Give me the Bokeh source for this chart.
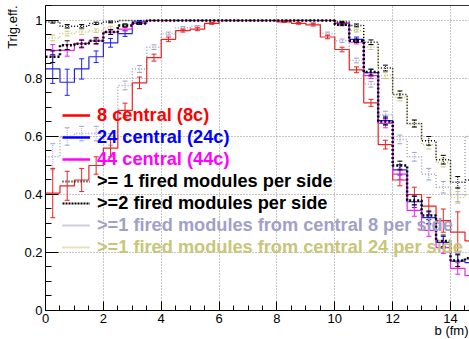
from bokeh.plotting import figure
from bokeh.models import (Range1d, Legend, LegendItem, Title, LinearAxis, FixedTicker,
                          SingleIntervalTicker, ColumnDataSource)
from bokeh.embed import file_html
from bokeh.resources import INLINE

# ---------------- data ----------------
bin_edges = [0.0, 0.5, 1.0, 1.5, 2.0, 2.5, 3.0, 3.5, 4.0, 4.5, 5.0, 5.5, 6.0, 6.5, 7.0,
             7.5, 8.0, 8.5, 9.0, 9.5, 10.0, 10.5, 11.0, 11.5, 12.0, 12.5, 13.0, 13.5,
             14.0, 14.5, 15.0]

eff_8c = [0.405, 0.43, 0.45, 0.50, 0.56, 0.69, 0.785, 0.872, 0.935, 0.965, 0.97, 0.99,
          1.0, 1.0, 1.0, 1.0, 0.995, 0.99, 0.985, 0.943, 0.90, 0.83, 0.716, 0.572,
          0.45, 0.40, 0.36, 0.31, 0.27, 0.24]
err_8c = [0.085, 0.05, 0.04, 0.03, 0.03, 0.025, 0.02, 0.012, 0.008, 0.005, 0.005, 0.003,
          0.0, 0.0, 0.0, 0.0, 0.002, 0.003, 0.004, 0.006, 0.008, 0.01, 0.012, 0.015,
          0.02, 0.025, 0.03, 0.04, 0.07, 0.08]

eff_24c = [0.833, 0.787, 0.833, 0.875, 0.923, 0.955, 0.995, 1.0, 1.0, 1.0, 1.0, 1.0,
           1.0, 1.0, 1.0, 1.0, 1.0, 1.0, 1.0, 1.0, 0.99, 0.935, 0.82, 0.655,
           0.485, 0.375, 0.32, 0.235, 0.17, 0.165]
err_24c = [0.05, 0.045, 0.035, 0.02, 0.015, 0.01, 0.005, 0.0, 0.0, 0.0, 0.0, 0.0,
           0.0, 0.0, 0.0, 0.0, 0.0, 0.0, 0.0, 0.0, 0.003, 0.008, 0.012, 0.015,
           0.018, 0.02, 0.02, 0.02, 0.025, 0.03]

eff_44c = [0.897, 0.897, 0.92, 0.93, 0.96, 0.97, 0.99, 1.0, 1.0, 1.0, 1.0, 1.0,
           1.0, 1.0, 1.0, 1.0, 1.0, 1.0, 1.0, 1.0, 0.99, 0.925, 0.81, 0.645,
           0.47, 0.345, 0.276, 0.217, 0.145, 0.12]
err_44c = [0.02, 0.02, 0.015, 0.012, 0.008, 0.006, 0.003, 0.0, 0.0, 0.0, 0.0, 0.0,
           0.0, 0.0, 0.0, 0.0, 0.0, 0.0, 0.0, 0.0, 0.003, 0.006, 0.01, 0.015,
           0.018, 0.02, 0.02, 0.02, 0.02, 0.02]

eff_ge1 = [0.995, 0.98, 0.98, 0.99, 0.995, 1.0, 1.0, 1.0, 1.0, 1.0, 1.0, 1.0,
           1.0, 1.0, 1.0, 1.0, 1.0, 1.0, 1.0, 1.0, 0.995, 0.983, 0.925, 0.836,
           0.745, 0.645, 0.585, 0.52, 0.442, 0.45]
err_ge1 = [0.004, 0.006, 0.006, 0.004, 0.003, 0.0, 0.0, 0.0, 0.0, 0.0, 0.0, 0.0,
           0.0, 0.0, 0.0, 0.0, 0.0, 0.0, 0.0, 0.0, 0.002, 0.005, 0.008, 0.01,
           0.012, 0.012, 0.015, 0.015, 0.02, 0.03]

eff_ge2 = [0.875, 0.915, 0.92, 0.93, 0.96, 0.983, 0.99, 1.0, 1.0, 1.0, 1.0, 1.0,
           1.0, 1.0, 1.0, 1.0, 1.0, 1.0, 1.0, 1.0, 0.985, 0.93, 0.822, 0.652,
           0.50, 0.379, 0.328, 0.24, 0.172, 0.18]
err_ge2 = [0.02, 0.015, 0.012, 0.01, 0.008, 0.005, 0.003, 0.0, 0.0, 0.0, 0.0, 0.0,
           0.0, 0.0, 0.0, 0.0, 0.0, 0.0, 0.0, 0.0, 0.003, 0.006, 0.01, 0.012,
           0.015, 0.015, 0.015, 0.02, 0.02, 0.025]

eff_c8 = [0.53, 0.60, 0.61, 0.61, 0.59, 0.776, 0.833, 0.908, 0.955, 0.975, 0.98, 0.99,
          1.0, 1.0, 1.0, 1.0, 1.0, 1.0, 0.99, 0.955, 0.93, 0.862, 0.78, 0.675,
          0.59, 0.53, 0.47, 0.425, 0.40, 0.60]
err_c8 = [0.045, 0.03, 0.025, 0.025, 0.02, 0.015, 0.012, 0.008, 0.005, 0.004, 0.003, 0.002,
          0.0, 0.0, 0.0, 0.0, 0.0, 0.0, 0.003, 0.005, 0.006, 0.008, 0.01, 0.012,
          0.015, 0.015, 0.02, 0.02, 0.025, 0.1]

eff_c24 = [0.94, 0.955, 0.96, 0.965, 0.975, 0.985, 0.995, 1.0, 1.0, 1.0, 1.0, 1.0,
           1.0, 1.0, 1.0, 1.0, 1.0, 1.0, 1.0, 1.0, 0.995, 0.965, 0.908, 0.81,
           0.735, 0.643, 0.572, 0.51, 0.39, 0.40]
err_c24 = [0.01, 0.008, 0.008, 0.006, 0.005, 0.004, 0.002, 0.0, 0.0, 0.0, 0.0, 0.0,
           0.0, 0.0, 0.0, 0.0, 0.0, 0.0, 0.0, 0.0, 0.002, 0.005, 0.008, 0.01,
           0.012, 0.012, 0.015, 0.015, 0.02, 0.03]

labels = ["8 central (8c)", "24 central (24c)", "44 central (44c)",
          ">= 1 fired modules per side", ">=2 fired modules per side",
          ">=1 fired modules from central 8 per side",
          ">=1 fired modules from central 24 per side"]

x_title = "b (fm)"
y_title = "Trig.eff."
x_ticks_interval = 2
y_ticks_interval = 0.2

# ---------------- figure ----------------
FONT = "Liberation Sans"

p = figure(width=469, height=339, output_backend="svg", toolbar_location=None,
           x_range=Range1d(0, 14.656), y_range=Range1d(0, 1.0517),
           min_border_left=45, min_border_right=0, min_border_top=5,
           min_border_bottom=29)
p.outline_line_color = None
p.background_fill_color = "white"
p.border_fill_color = "white"
p.extra_y_ranges = {"legend_only": Range1d(10, 11)}

xt = SingleIntervalTicker(interval=x_ticks_interval, num_minor_ticks=4)
yt = SingleIntervalTicker(interval=y_ticks_interval, num_minor_ticks=4)
p.xaxis.ticker = xt
p.yaxis.ticker = yt
p.xgrid.ticker = xt
p.ygrid.ticker = yt

for g in (p.xgrid, p.ygrid):
    g.grid_line_color = "#8c8c8c"
    g.grid_line_dash = "1 2"
    g.grid_line_width = 1

ax = p.xaxis[0]
ax.major_tick_in = 9
ax.major_tick_out = 0
ax.minor_tick_in = 5
ax.minor_tick_out = 0
ax.major_label_standoff = 3
ax.major_label_text_font = FONT
ax.major_label_text_font_size = "13px"
ax.major_label_text_color = "black"
ax.axis_line_color = "black"

ay = p.yaxis[0]
ay.major_tick_in = 13
ay.major_tick_out = 0
ay.minor_tick_in = 6
ay.minor_tick_out = 0
ay.major_label_standoff = 3
ay.major_label_text_font = FONT
ay.major_label_text_font_size = "13px"
ay.major_label_text_color = "black"
ay.axis_line_color = "black"
ay.major_label_overrides = {0: "0", 1: "1"}

top_axis = LinearAxis(ticker=FixedTicker(ticks=[]), major_tick_in=0, major_tick_out=0,
                      minor_tick_in=0, minor_tick_out=0, major_label_standoff=0,
                      axis_line_color="#333333")
p.add_layout(top_axis, "above")

# axis titles as side titles (ROOT style: at the ends of the axes)
p.add_layout(Title(text=y_title, align="right", vertical_align="top", offset=0,
                   standoff=0, text_font=FONT, text_font_size="13px",
                   text_font_style="normal", text_color="black"), "left")
p.add_layout(Title(text=x_title, align="right", vertical_align="top", offset=1,
                   standoff=-6, text_font=FONT, text_font_size="13px",
                   text_font_style="normal", text_color="black"), "below")

# ---------------- series ----------------
centers = [(bin_edges[i] + bin_edges[i + 1]) / 2 for i in range(len(bin_edges) - 1)]

series = [
    (eff_c8, err_c8, "#a0a0c8", 1.5, "1 2"),
    (eff_c24, err_c24, "#c8c678", 1.5, "1 2"),
    (eff_8c, err_8c, "#ee2222", 1.2, "solid"),
    (eff_24c, err_24c, "#2222ee", 1.2, "solid"),
    (eff_44c, err_44c, "#ee22ee", 1.2, "solid"),
    (eff_ge1, err_ge1, "#000000", 1.5, "1 2"),
    (eff_ge2, err_ge2, "#000000", 2.5, "2 2"),
]

for eff, err, color, lw, dash in series:
    src = ColumnDataSource(dict(x=bin_edges, y=list(eff) + [eff[-1]]))
    p.step(x="x", y="y", source=src, mode="after", line_color=color,
           line_width=lw, line_dash=dash)
    xs = [c for c, e in zip(centers, err) if e > 0]
    lo = [v - e for v, e in zip(eff, err) if e > 0]
    hi = [v + e for v, e in zip(eff, err) if e > 0]
    esrc = ColumnDataSource(dict(x=xs, lo=lo, hi=hi))
    p.segment(x0="x", y0="lo", x1="x", y1="hi", source=esrc, line_color=color,
              line_width=1, line_dash="solid" if dash == "solid" else "1 1")
    p.dash(x="x", y="lo", source=esrc, size=5, line_color=color, line_width=1)
    p.dash(x="x", y="hi", source=esrc, size=5, line_color=color, line_width=1)

# ---------------- legend (one per entry to allow coloured text) ----------------
legend_series = [eff_8c, eff_24c, eff_44c, eff_ge1, eff_ge2, eff_c8, eff_c24]
legend_styles = [
    ("#ff0000", 2.5, "solid"),
    ("#0000ff", 2.5, "solid"),
    ("#ff00ff", 2.5, "solid"),
    ("#000000", 2, "1 2"),
    ("#000000", 2, "2 1"),
    ("#a0a0c8", 2, "1 1"),
    ("#c8c678", 2, "1 1"),
]
row_centers = [115, 137, 159, 181, 203, 225, 247]  # canvas pixel rows
for lab, eff, (color, lw, dash), cy in zip(labels, legend_series, legend_styles, row_centers):
    # legend-only renderer: same data, on a range that keeps it out of the frame
    r = p.line(x=centers, y=eff, y_range_name="legend_only", line_color=color,
               line_width=lw, line_dash=dash)
    lg = Legend(items=[LegendItem(label=lab, renderers=[r])],
                location=(17, 299 - cy), padding=0, margin=0, spacing=0,
                glyph_width=28, glyph_height=22, label_height=22,
                label_standoff=7, border_line_alpha=0,
                background_fill_alpha=0,
                label_text_font=FONT, label_text_font_style="bold",
                label_text_font_size="18.2px", label_text_color=color)
    p.add_layout(lg)

open("out.html", "w").write(file_html(p, INLINE))
